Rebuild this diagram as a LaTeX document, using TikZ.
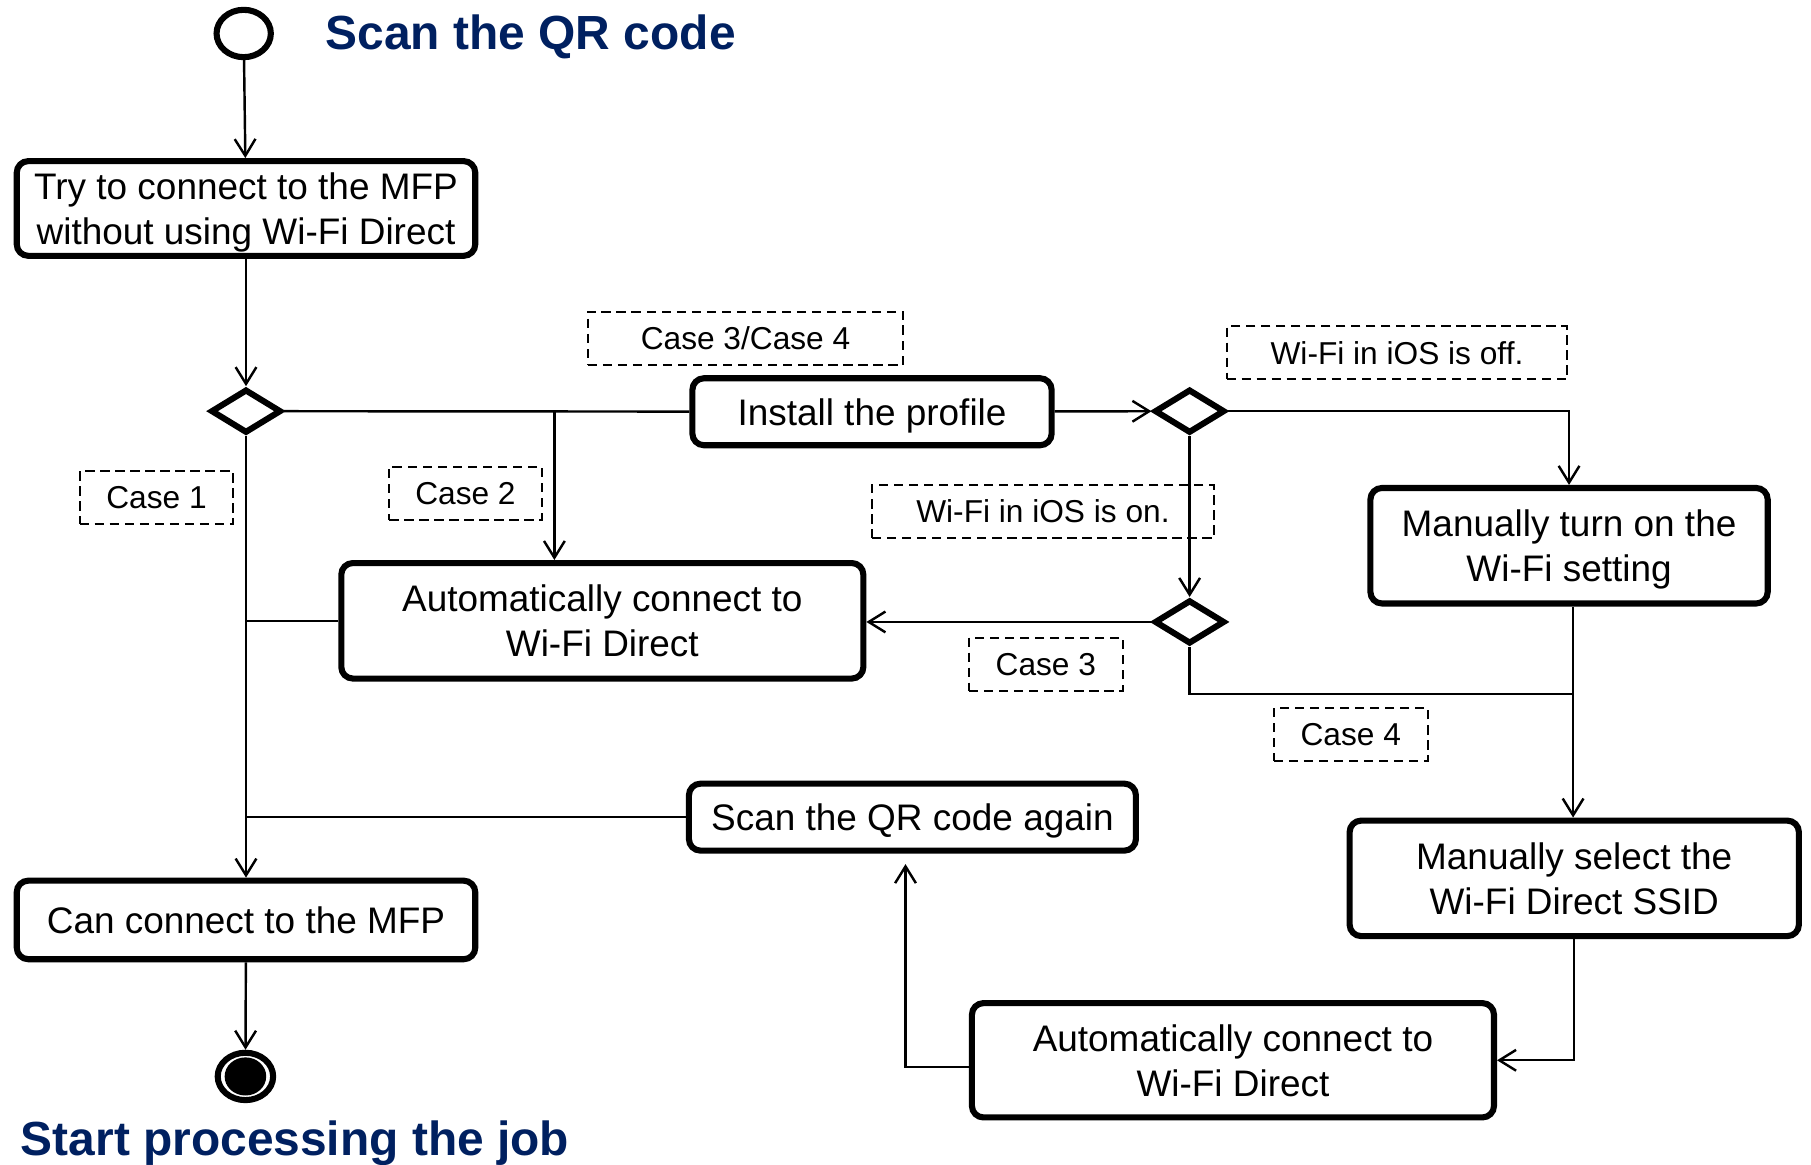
\documentclass[tikz,border=0pt]{standalone}
\usepackage{fontspec}
\setmainfont{Liberation Sans}
\usepackage{xcolor}
\usepackage{tikz}
\usetikzlibrary{shapes.geometric,arrows.meta}
\definecolor{titleblue}{RGB}{0,32,96}

\begin{document}
\begin{tikzpicture}[
act/.style={draw,line width=1.5pt,rounded corners=1mm,align=center,inner sep=0pt,text depth=0pt,font=\fontsize{9.1}{11.1}\selectfont},
dec/.style={draw,diamond,line width=1.5pt,inner sep=0pt,minimum width=.61cm,minimum height=.38cm},
lbl/.style={draw,line width=.5pt,dash pattern=on 2.3pt off 1.4pt,inner sep=0pt,minimum height=.46cm,font=\fontsize{7.8}{9}\selectfont},
ttl/.style={anchor=west,inner sep=0pt,text=titleblue,font=\fontsize{11.8}{14}\selectfont\bfseries},
arr/.style={-{Straight Barb[length=1.45mm,width=1.8mm]}},
line width=.6pt
]
\useasboundingbox (0,0) rectangle (15.68,-10.08);

% start and end
\node[draw,ellipse,line width=1.5pt,minimum width=.47cm,minimum height=.41cm,inner sep=0pt] (start) at (2.11,-.29) {};
\node[ttl] (scan) at (2.81,-.32) {Scan the QR code};
\node[draw,ellipse,line width=1.5pt,minimum width=.48cm,minimum height=.41cm,inner sep=0pt] (fin) at (2.125,-9.32) {};
\fill (fin.center) ellipse (.18 and .165);
\node[ttl] (job) at (.17,-9.9) {Start processing the job};

% actions
\node[act,minimum width=3.97cm,minimum height=.82cm] (try) at (2.13,-1.805) {Try to connect to the MFP\\without using Wi-Fi Direct};
\node[act,minimum width=3.11cm,minimum height=.58cm] (inst) at (7.55,-3.565) {Install the profile};
\node[act,minimum width=4.52cm,minimum height=1.0cm] (auto1) at (5.215,-5.375) {Automatically connect to\\Wi-Fi Direct};
\node[act,minimum width=3.44cm,minimum height=1.0cm] (mturn) at (13.585,-4.725) {Manually turn on the\\Wi-Fi setting};
\node[act,minimum width=3.89cm,minimum height=1.0cm] (mssid) at (13.63,-7.605) {Manually select the\\Wi-Fi Direct SSID};
\node[act,minimum width=4.52cm,minimum height=.99cm] (auto2) at (10.675,-9.18) {Automatically connect to\\Wi-Fi Direct};
\node[act,minimum width=3.87cm,minimum height=.58cm] (again) at (7.90,-7.075) {Scan the QR code again};
\node[act,minimum width=3.97cm,minimum height=.68cm] (can) at (2.13,-7.965) {Can connect to the MFP};

% decisions
\node[dec] (d1) at (2.13,-3.56) {};
\node[dec] (d2) at (10.30,-3.56) {};
\node[dec] (d3) at (10.30,-5.385) {};

% guards
\node[lbl,minimum width=2.73cm] (l34) at (6.455,-2.93) {Case 3/Case 4};
\node[lbl,minimum width=2.95cm] (loff) at (12.095,-3.055) {Wi-Fi in iOS is off.};
\node[lbl,minimum width=1.33cm] (lc1) at (1.355,-4.31) {Case 1};
\node[lbl,minimum width=1.32cm] (lc2) at (4.03,-4.27) {Case 2};
\node[lbl,minimum width=2.96cm] (lon) at (9.03,-4.43) {Wi-Fi in iOS is on.};
\node[lbl,minimum width=1.33cm] (lc3) at (9.055,-5.75) {Case 3};
\node[lbl,minimum width=1.33cm] (lc4) at (11.695,-6.36) {Case 4};

% flows
\coordinate (c2) at (4.80,-3.56);
\coordinate (c4) at (13.62,-6.01);
\coordinate (c5) at (7.84,-9.24);
\draw[arr] (start) -- (try);
\draw[arr] (try) -- (d1);
\draw (d1) -- (inst);
\draw[arr] (c2) -- (c2 |- auto1.north);
\draw[arr] (inst) -- (d2);
\draw[arr] (d2.east) -| (mturn.north);
\draw[arr] (d2) -- (d3);
\draw[arr] (d3.west) -- (d3.west -| auto1.east);
\draw (d3.south) |- (c4);
\draw[arr] (mturn.south -| c4) -- (mssid.north -| c4);
\draw[arr] (mssid.south) |- (auto2.east);
\draw[arr,shorten >=.9mm] (auto2.west |- c5) -| (c5 |- again.south);
\draw (again.west) -- (again.west -| d1.south);
\draw (auto1.west) -- (auto1.west -| d1.south);
\draw[arr] (d1) -- (can);
\draw[arr] (can) -- (fin);
\end{tikzpicture}
\end{document}
